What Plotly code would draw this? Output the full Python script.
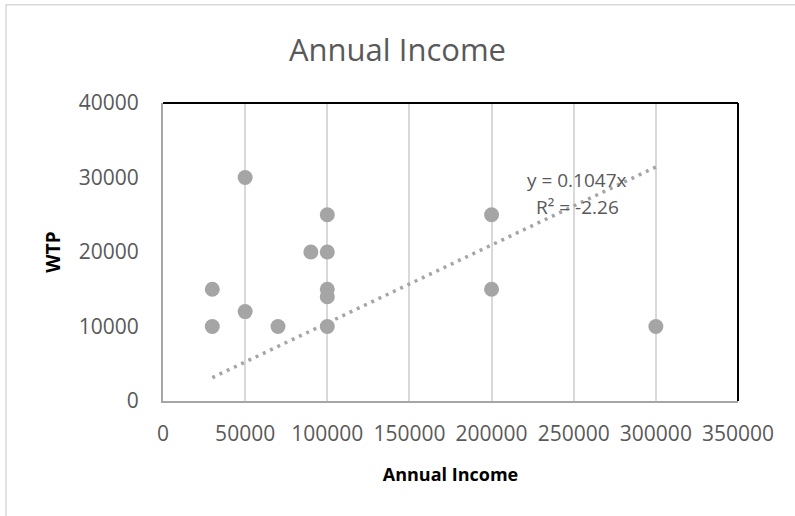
import plotly.graph_objects as go

# Data
income = [30000, 30000, 50000, 50000, 70000, 90000, 100000, 100000,
          100000, 100000, 100000, 200000, 200000, 300000]
wtp = [15000, 10000, 30000, 12000, 10000, 20000, 25000, 20000,
       15000, 14000, 10000, 25000, 15000, 10000]
SLOPE = 0.1047
R2 = -2.26
x_ticks = [0, 50000, 100000, 150000, 200000, 250000, 300000, 350000]
y_ticks = [0, 10000, 20000, 30000, 40000]

GRIS = "#a5a5a5"
TEXTO = "#595959"
FUENTE = "Open Sans, sans-serif"

trend_x = [min(income), max(income)]
trend_y = [SLOPE * v for v in trend_x]

fig = go.Figure()
fig.add_trace(go.Scatter(
    x=trend_x, y=trend_y, mode="lines",
    line=dict(color=GRIS, width=3.5, dash="3px,5px"),
    hoverinfo="skip", showlegend=False,
))
fig.add_trace(go.Scatter(
    x=income, y=wtp, mode="markers",
    marker=dict(color=GRIS, size=15),
    showlegend=False,
))

fig.add_annotation(x=252000, y=29600, text=f"y = {SLOPE}x", showarrow=False,
                   borderpad=0, font=dict(family=FUENTE, size=19, color=TEXTO))
fig.add_annotation(x=252000, y=26100, text=f"R² = {R2}", showarrow=False,
                   borderpad=0, font=dict(family=FUENTE, size=19, color=TEXTO))

# borde superior y derecho en negro, como en Excel
fig.add_shape(type="line", xref="x domain", yref="y domain", x0=0, x1=1, y0=1, y1=1,
              line=dict(color="black", width=2))
fig.add_shape(type="line", xref="x domain", yref="y domain", x0=1, x1=1, y0=0, y1=1,
              line=dict(color="black", width=2))
# marco exterior del gráfico
fig.add_shape(type="rect", xref="paper", yref="paper", x0=-0.273, x1=1.12, y0=-0.45, y1=1.33,
              line=dict(color="#d9d9d9", width=1.5), layer="below")

fig.update_layout(
    width=795, height=516,
    margin=dict(l=163, r=57, t=103, b=115),
    paper_bgcolor="white", plot_bgcolor="white",
    font=dict(family=FUENTE, color=TEXTO),
    title=dict(text="Annual Income", x=0.5, xref="container", xanchor="center",
               y=0.903, yanchor="middle", font=dict(size=31, color=TEXTO)),
)
fig.update_xaxes(
    range=[0, 350000], tickvals=x_ticks, ticktext=[str(v) for v in x_ticks],
    showgrid=True, gridcolor="#d9d9d9", gridwidth=1.5, zeroline=False,
    showline=True, linecolor="#a6a6a6", linewidth=2,
    tickfont=dict(size=21, color=TEXTO), ticklabelstandoff=13,
    title=dict(text="<b>Annual Income</b>", font=dict(size=18, color="black"), standoff=22),
)
fig.update_yaxes(
    range=[0, 40000], tickvals=y_ticks, ticktext=[str(v) for v in y_ticks],
    showgrid=False, zeroline=False,
    showline=True, linecolor="#a6a6a6", linewidth=2,
    tickfont=dict(size=21, color=TEXTO), ticklabelstandoff=18,
    title=dict(text="<b>WTP</b>", font=dict(size=19, color="black"), standoff=13),
)

# sin margen del body para que la figura empiece en la esquina de la ventana
fig.write_html("out.html", config={"displayModeBar": False},
               post_script="document.body.style.margin='0';")
